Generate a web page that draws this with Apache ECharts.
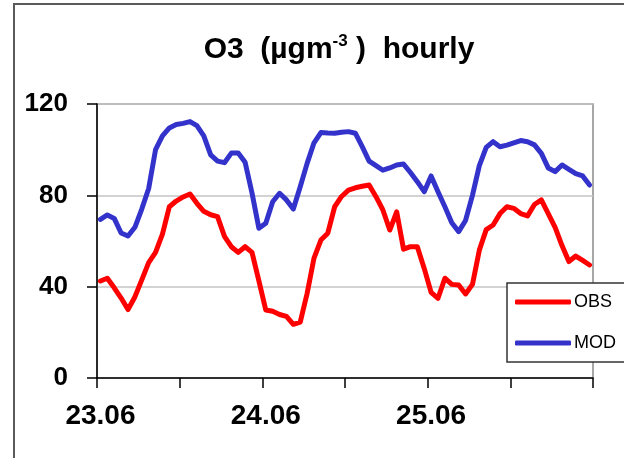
<!DOCTYPE html>
<html>
<head>
<meta charset="utf-8">
<script src="https://cdn.jsdelivr.net/npm/echarts@6/dist/echarts.min.js"></script>
<style>
html,body{margin:0;padding:0;background:#fff;}
#c{width:624px;height:458px;}
</style>
</head>
<body>
<div id="c"></div>
<script>
// 72 hourly categories, 23.06 00h .. 25.06 23h
const dayLabels = ['23.06', '24.06', '25.06'];
const hours = [];
for (let d = 0; d < 3; d++) {
  for (let h = 0; h < 24; h++) hours.push(h === 0 ? dayLabels[d] : dayLabels[d] + ' ' + h + 'h');
}
const obs = [42.5, 43.7, 39.5, 35, 30, 35.5, 43, 50.5, 55, 63, 75, 77.5,
  79.3, 80.6, 76.5, 73, 71.5, 70.7, 62, 57.5, 55, 57.5, 55, 42.5,
  29.8, 29.2, 27.8, 27, 23.5, 24.5, 37, 52.5, 60.4, 63.4, 75, 79.5,
  82.3, 83.3, 84, 84.5, 79.4, 73.6, 64.8, 72.8, 56.4, 57.5, 57.5, 48,
  37.5, 34.9, 43.7, 41, 40.7, 36.8, 41, 56, 65, 67, 72, 75,
  74.3, 72, 71, 76, 78, 72, 66, 58, 51, 53.4, 51.5, 49.5];
const mod = [69.5, 71.4, 69.9, 63.5, 62.2, 66, 74, 83, 100, 106, 109.5, 111,
  111.5, 112.3, 110.5, 106, 97.7, 95, 94.3, 98.5, 98.5, 94.5, 81, 65.6,
  67.8, 77.2, 80.9, 78, 74, 83.8, 94, 103, 107.5, 107.3, 107.2, 107.6,
  107.9, 107.2, 101.3, 95, 93, 91, 92, 93.3, 93.7, 90, 86, 81.6,
  88.5, 81.6, 75, 68, 64.1, 69, 80, 93, 101, 103.5, 101.3, 102,
  103, 104, 103.5, 102.1, 98.4, 92, 90.4, 93.3, 91.4, 89.5, 88.5, 84.5];
const yTicks = [0, 40, 80, 120];

const chart = echarts.init(document.getElementById('c'), null, {renderer: 'canvas'});
const FONT = '"Liberation Sans", Arial, sans-serif';
chart.setOption({
  animation: false,
  backgroundColor: '#ffffff',
  title: {
    text: '{a|O3  (µgm}{s|-3}{a| )  hourly}',
    left: 334, top: 28, textAlign: 'center',
    textStyle: {
      rich: {
        a: {fontSize: 30, fontWeight: 'bold', fontFamily: FONT, color: '#000'},
        s: {fontSize: 17, fontWeight: 'bold', fontFamily: FONT, color: '#000', verticalAlign: 'top', lineHeight: 34}
      }
    }
  },
  graphic: [
    {type: 'rect', shape: {x: 14, y: 4, width: 640, height: 480}, style: {fill: 'none', stroke: '#5a5a5a', lineWidth: 2}, z: -1},
    {type: 'rect', shape: {x: 507, y: 283, width: 130, height: 79}, style: {fill: '#fff', stroke: '#333', lineWidth: 1.5}, z: 10}
  ],
  legend: [
    {data: ['OBS'], left: 515, top: 293, padding: 0, itemWidth: 56, itemHeight: 5, itemGap: 0, icon: 'roundRect',
     textStyle: {fontSize: 18, fontFamily: FONT, color: '#000', padding: [0, 0, 0, -2]}, z: 20},
    {data: ['MOD'], left: 515, top: 334, padding: 0, itemWidth: 56, itemHeight: 5, itemGap: 0, icon: 'roundRect',
     textStyle: {fontSize: 18, fontFamily: FONT, color: '#000', padding: [0, 0, 0, -2]}, z: 20}
  ],
  grid: {left: 97, top: 104, width: 496, height: 274, show: true, borderColor: '#8a8a8a', borderWidth: 1.5},
  xAxis: {
    type: 'category', data: hours, boundaryGap: true,
    axisLine: {lineStyle: {color: '#000', width: 1.5}},
    axisTick: {show: true, interval: 11, length: 10, lineStyle: {color: '#000', width: 1.5}},
    axisLabel: {interval: 23, formatter: v => v.split(' ')[0], fontSize: 28, fontWeight: 'bold', fontFamily: FONT, color: '#000', margin: 24},
    splitLine: {show: false}
  },
  yAxis: {
    type: 'value', min: 0, max: 120, interval: 40,
    axisLine: {show: true, lineStyle: {color: '#000', width: 1.5}},
    axisTick: {show: true, length: 10, lineStyle: {color: '#000', width: 1.5}},
    axisLabel: {fontSize: 26, fontWeight: 'bold', fontFamily: FONT, color: '#000', margin: 29,
      formatter: v => yTicks.includes(v) ? String(v) : ''},
    splitLine: {lineStyle: {color: '#c4c4c4', width: 1.5}}
  },
  series: [
    {name: 'OBS', type: 'line', data: obs, symbol: 'none', lineStyle: {color: '#ff0000', width: 5, join: 'round', cap: 'round'}, itemStyle: {color: '#ff0000'}, z: 3},
    {name: 'MOD', type: 'line', data: mod, symbol: 'none', lineStyle: {color: '#3333cc', width: 5, join: 'round', cap: 'round'}, itemStyle: {color: '#3333cc'}, z: 2}
  ]
});
</script>
</body>
</html>
